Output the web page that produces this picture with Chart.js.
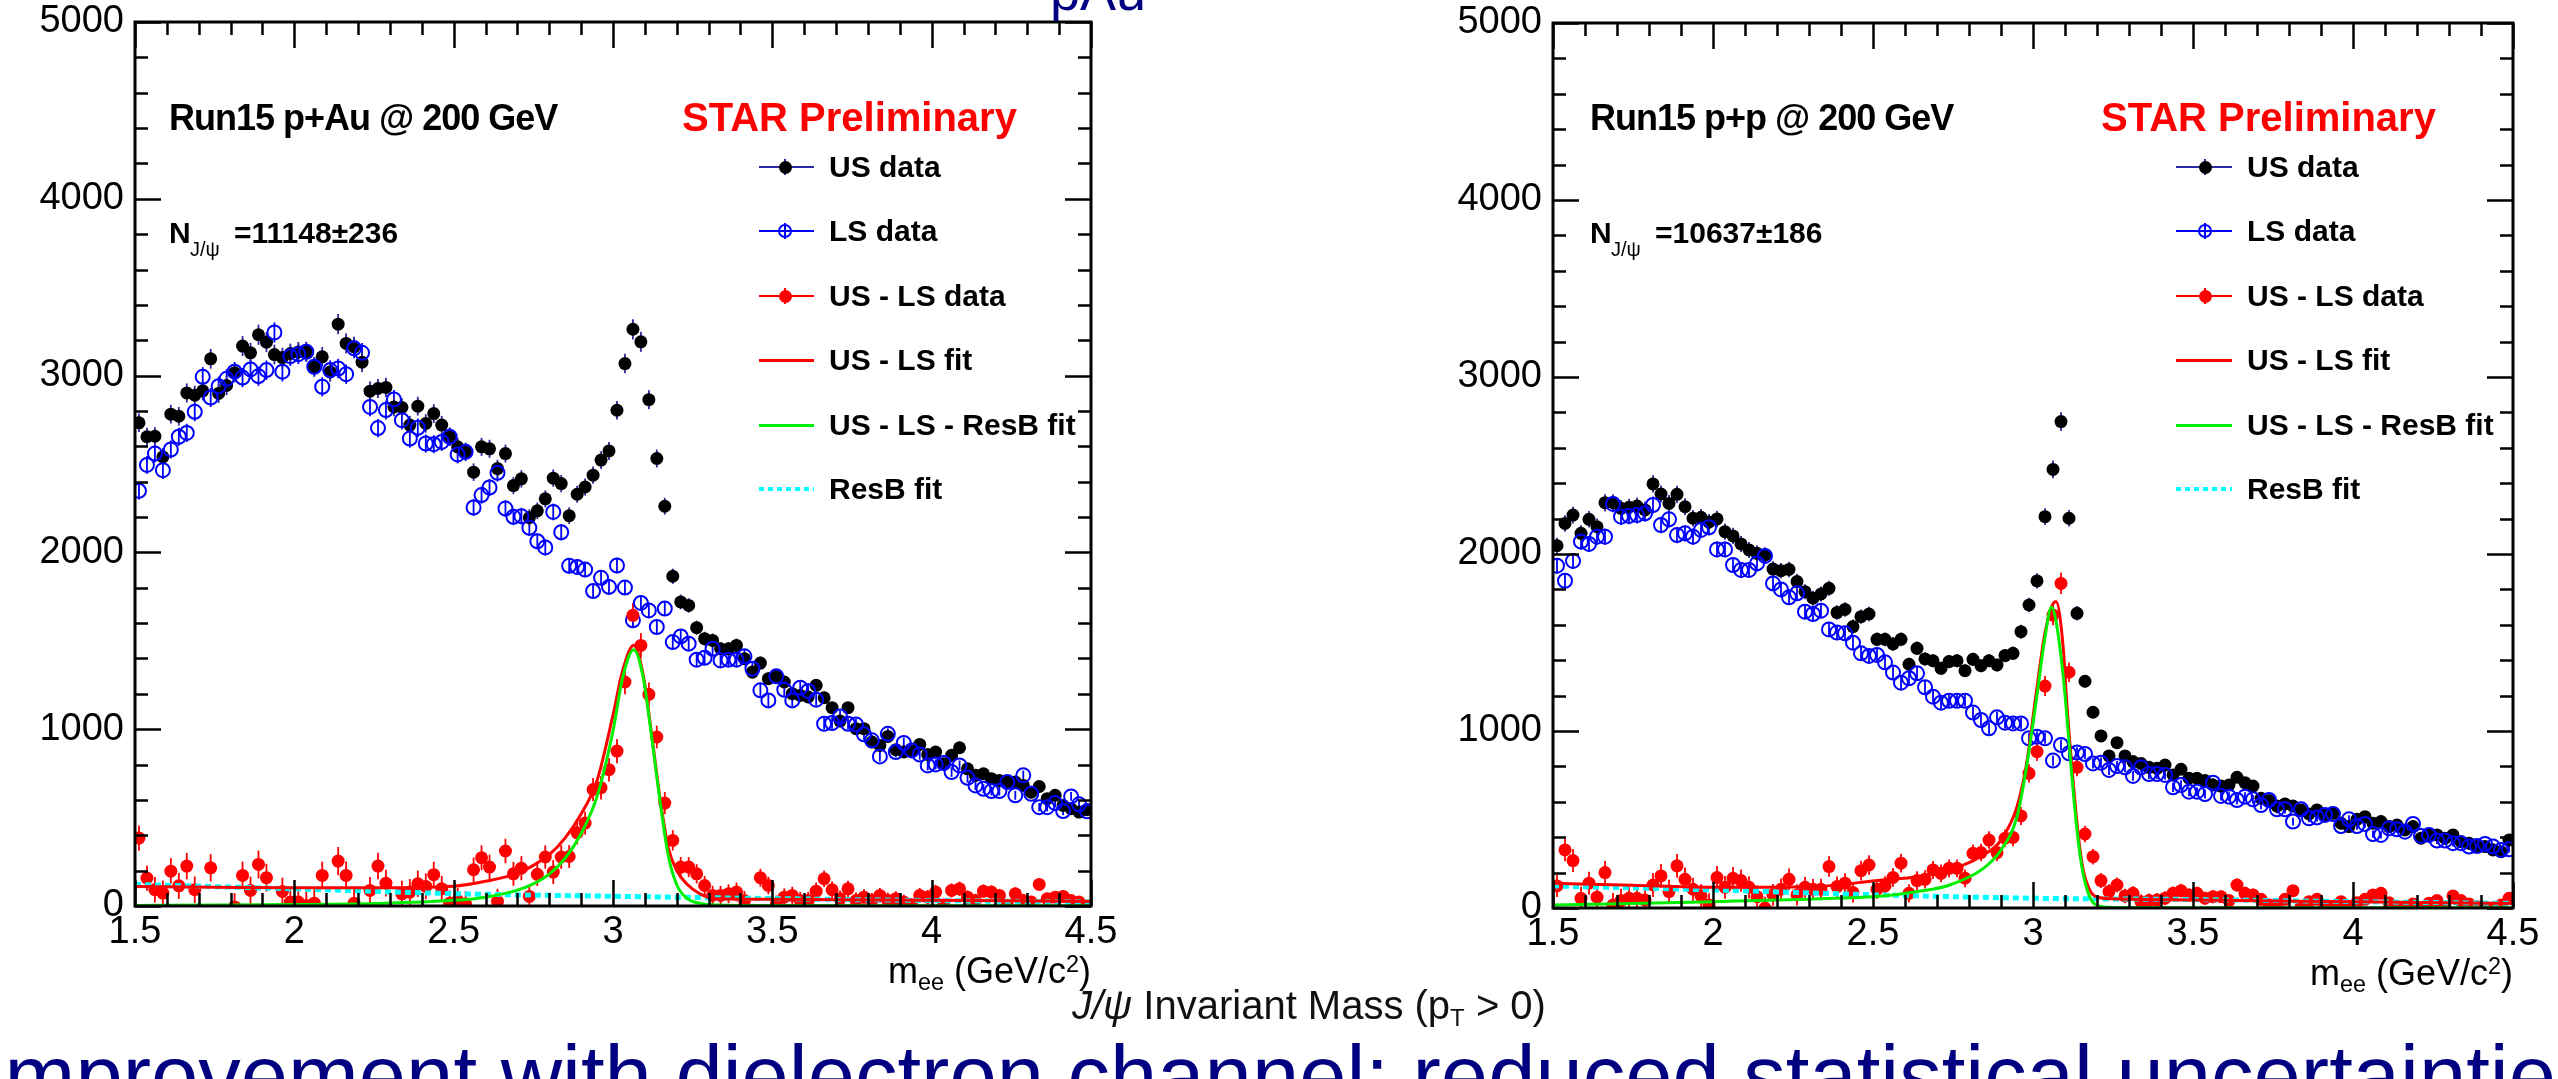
<!DOCTYPE html>
<html>
<head>
<meta charset="utf-8">
<script src="https://cdn.jsdelivr.net/npm/chart.js@4.4.0/dist/chart.umd.min.js"></script>
<style>
html,body{margin:0;padding:0;background:#fff;}
body{width:2558px;height:1079px;overflow:hidden;position:relative;font-family:"Liberation Sans",Arial,sans-serif;}
canvas{position:absolute;top:0;}
.t{position:absolute;white-space:nowrap;line-height:1;}
.b{font-weight:bold;}
</style>
</head>
<body>
<canvas id="cPAu" width="1150" height="1000" style="left:0;width:1150px;height:1000px"></canvas>
<canvas id="cPP" width="1158" height="1000" style="left:1400px;width:1158px;height:1000px"></canvas>

<!-- page texts -->
<div class="t" style="left:1050px;top:-36px;font-size:54px;color:#000080">pAu</div>
<div class="t" style="left:1072px;top:985px;font-size:40px;color:#111"><i>J/&psi;</i> Invariant Mass (p<span style="position:relative;top:0.3em;font-size:0.6em">T</span> &gt; 0)</div>
<div class="t" style="left:-19px;top:1033px;font-size:85px;color:#000080">Improvement with dielectron channel; reduced statistical uncertainties</div>

<!-- left panel texts -->
<div class="t b" style="left:169px;top:100px;font-size:36px;letter-spacing:-1px">Run15 p+Au @ 200 GeV</div>
<div class="t b" style="left:682px;top:97px;font-size:40px;color:#ff0000">STAR Preliminary</div>
<div class="t b" style="left:169px;top:218px;font-size:30px">N</div>
<div class="t" style="left:190px;top:239px;font-size:20px">J/&psi;</div>
<div class="t b" style="left:234px;top:218px;font-size:30px">=11148&plusmn;236</div>
<div class="t" style="right:1467px;top:953px;font-size:36px">m<span style="position:relative;top:0.3em;font-size:0.65em">ee</span> (GeV/c<span style="position:relative;top:-0.45em;font-size:0.65em">2</span>)</div>

<!-- right panel texts -->
<div class="t b" style="left:1590px;top:100px;font-size:36px;letter-spacing:-1px">Run15 p+p @ 200 GeV</div>
<div class="t b" style="left:2101px;top:97px;font-size:40px;color:#ff0000">STAR Preliminary</div>
<div class="t b" style="left:1590px;top:218px;font-size:30px">N</div>
<div class="t" style="left:1611px;top:239px;font-size:20px">J/&psi;</div>
<div class="t b" style="left:1655px;top:218px;font-size:30px">=10637&plusmn;186</div>
<div class="t" style="right:45px;top:955px;font-size:36px">m<span style="position:relative;top:0.3em;font-size:0.65em">ee</span> (GeV/c<span style="position:relative;top:-0.45em;font-size:0.65em">2</span>)</div>

<script>
// ---------------- data ----------------
const MASS = [
1.5125,1.5375,1.5625,1.5875,1.6125,1.6375,1.6625,1.6875,1.7125,1.7375,
1.7625,1.7875,1.8125,1.8375,1.8625,1.8875,1.9125,1.9375,1.9625,1.9875,
2.0125,2.0375,2.0625,2.0875,2.1125,2.1375,2.1625,2.1875,2.2125,2.2375,
2.2625,2.2875,2.3125,2.3375,2.3625,2.3875,2.4125,2.4375,2.4625,2.4875,
2.5125,2.5375,2.5625,2.5875,2.6125,2.6375,2.6625,2.6875,2.7125,2.7375,
2.7625,2.7875,2.8125,2.8375,2.8625,2.8875,2.9125,2.9375,2.9625,2.9875,
3.0125,3.0375,3.0625,3.0875,3.1125,3.1375,3.1625,3.1875,3.2125,3.2375,
3.2625,3.2875,3.3125,3.3375,3.3625,3.3875,3.4125,3.4375,3.4625,3.4875,
3.5125,3.5375,3.5625,3.5875,3.6125,3.6375,3.6625,3.6875,3.7125,3.7375,
3.7625,3.7875,3.8125,3.8375,3.8625,3.8875,3.9125,3.9375,3.9625,3.9875,
4.0125,4.0375,4.0625,4.0875,4.1125,4.1375,4.1625,4.1875,4.2125,4.2375,
4.2625,4.2875,4.3125,4.3375,4.3625,4.3875,4.4125,4.4375,4.4625,4.4875];

// p+Au
const PAU_US = [
2733,2654,2657,2540,2782,2770,2902,2889,2914,3095,
2899,2944,3016,3167,3129,3231,3189,3119,3102,3125,
3134,3134,3050,3106,3021,3291,3182,3163,3076,2912,
2927,2933,2823,2820,2720,2827,2729,2785,2720,2654,
2597,2569,2454,2597,2586,2474,2559,2378,2416,2197,
2235,2303,2420,2389,2208,2329,2370,2437,2522,2574,
2804,3068,3262,3191,2864,2531,2261,1865,1720,1700,
1574,1512,1502,1455,1455,1474,1399,1323,1374,1286,
1299,1267,1201,1191,1182,1248,1178,1122,1046,1122,
1003,1003,927,908,959,884,871,876,914,857,
871,805,852,895,776,739,748,720,710,701,
701,682,644,676,607,626,569,550,531,545];
const PAU_LS = [
2348,2495,2559,2465,2582,2654,2676,2795,2993,2876,
2940,2982,3022,2989,3035,2997,3031,3244,3022,3110,
3121,3135,3050,2937,3031,3040,3008,3154,3129,2823,
2703,2805,2865,2748,2644,2705,2616,2612,2625,2654,
2554,2569,2254,2324,2367,2450,2248,2201,2205,2139,
2063,2028,2229,2114,1924,1918,1903,1781,1856,1805,
1926,1801,1616,1714,1672,1578,1682,1493,1525,1484,
1393,1404,1455,1389,1393,1393,1412,1342,1220,1163,
1299,1223,1163,1235,1216,1167,1031,1035,1072,1031,
1027,971,937,846,974,871,922,880,857,795,
801,809,758,795,725,682,663,650,650,701,
626,739,635,559,559,582,537,620,575,536];
const PAU_USLS = [
384,158,92,73,197,114,226,92,null,216,
null,null,-5,173,88,235,160,null,82,22,
22,3,16,173,null,254,173,16,null,88,
226,129,null,69,79,126,111,177,97,16,
31,12,205,273,220,27,311,182,214,54,
179,277,192,277,280,414,469,659,669,771,
876,1267,1644,1474,1197,956,582,371,220,220,
182,116,60,60,69,79,31,null,160,116,
9,50,60,31,31,84,154,92,41,97,
31,50,31,60,31,41,22,3,60,50,
79,3,88,97,50,31,84,79,60,3,
69,31,22,122,41,50,54,31,22,0];
const PAU_FIT_M    = [1.5,1.75,2.0,2.25,2.5,2.6,2.7,2.75,2.8,2.85,2.9,2.95,3.0,3.03,3.065,3.095,3.121,3.147,3.173,3.2,3.231,3.273,3.325,3.5,4.0,4.5];
const PAU_FIT_USLS = [110,106,103,103,112,140,185,230,290,385,520,710,1080,1330,1475,1304,974,616,333,201,126,69,41,38,32,26];
const PAU_FIT_SIG  = [3,5,8,14,32,50,90,125,180,270,410,620,990,1290,1450,1290,960,600,290,120,45,15,6,3,2,2];
const PAU_RESB_M   = [1.5,2.0,2.5,3.0,3.5,4.0,4.5];
const PAU_RESB     = [122,97,70,55,42,31,22];

// p+p
const PP_US = [
2047,2173,2220,2117,2196,2154,2290,2290,2258,2264,
2271,2249,2396,2339,2286,2337,2267,2202,2207,2180,
2198,2126,2102,2057,2023,2004,1994,1915,1906,1913,
1844,1787,1750,1774,1806,1669,1687,1590,1646,1661,
1518,1518,1492,1518,1377,1467,1407,1397,1354,1392,
1397,1341,1405,1369,1397,1373,1426,1439,1561,1712,
1848,2211,2478,2748,2202,1665,1281,1106,972,859,
934,859,827,817,795,789,808,752,784,733,
733,720,695,689,695,738,708,689,620,607,
576,588,576,554,531,554,526,535,479,460,
501,516,479,488,460,469,441,460,394,413,
413,394,413,375,366,347,347,328,318,384];
const PP_LS = [
1934,1849,1961,2070,2057,2098,2098,2283,2211,2215,
2220,2230,2277,2164,2196,2107,2117,2098,2136,2151,
2026,2026,1938,1910,1910,1947,1989,1834,1800,1755,
1778,1674,1661,1680,1574,1556,1552,1499,1439,1424,
1430,1388,1330,1273,1298,1326,1247,1194,1160,1171,
1171,1171,1104,1062,1015,1077,1047,1043,1043,959,
968,959,833,921,874,878,870,817,821,780,
802,795,746,795,757,757,752,682,695,657,
657,644,708,633,629,610,629,614,582,610,
558,558,488,558,507,512,526,531,463,501,
463,475,418,413,450,445,431,475,407,413,
381,381,366,366,347,350,362,347,328,332];
const PP_USLS = [
125,328,268,55,140,61,200,17,42,55,
55,45,130,181,93,238,162,106,68,17,
172,117,168,155,117,64,0,74,106,162,
74,117,106,106,234,121,140,87,211,243,
106,125,173,253,83,155,162,215,196,224,
224,168,309,313,384,313,394,399,520,761,
883,1254,1655,1834,1332,795,418,290,155,93,
130,68,83,36,42,45,55,83,98,74,
83,55,64,64,42,130,83,74,49,17,
7,49,98,7,36,49,7,0,36,7,
30,49,74,83,30,7,0,23,0,27,
42,4,68,42,23,7,0,0,17,55];
const PP_FIT_M    = [1.5,1.75,2.0,2.3,2.53,2.64,2.74,2.845,2.9,2.95,2.98,3.01,3.035,3.058,3.072,3.095,3.105,3.126,3.142,3.157,3.178,3.2,3.25,3.5,4.0,4.5];
const PP_FIT_USLS = [140,128,117,120,158,177,215,300,384,573,817,1213,1530,1700,1731,1458,1175,704,403,215,100,62,52,45,35,25];
const PP_FIT_SIG  = [17,26,36,50,68,93,130,224,328,516,800,1170,1500,1700,1620,1300,1100,650,370,190,60,15,3,2,2,2];
const PP_RESB_M   = [1.5,2.0,2.5,3.0,3.5,4.0,4.5];
const PP_RESB     = [125,102,75,55,48,36,26];

// axes
const X_TICK_VALUES = [1.5,2,2.5,3,3.5,4,4.5];
const X_TICK_LABELS = ['1.5','2','2.5','3','3.5','4','4.5'];
const Y_TICK_VALUES = [0,1000,2000,3000,4000,5000];
const Y_TICK_LABELS = ['0','1000','2000','3000','4000','5000'];
const X_MIN = 1.5, X_MAX = 4.5, X_MINOR = 0.1, X_MINOR_N = 30;
const Y_MIN = 0, Y_MAX = 5000, Y_MINOR = 200, Y_MINOR_N = 25;

const LEGEND_LABELS = ['US data','LS data','US - LS data','US - LS fit','US - LS - ResB fit','ResB fit'];

// ---------------- plugins ----------------
const errorBars = {
  id: 'errorBars',
  beforeDatasetsDraw(chart) {
    const {ctx, chartArea: a, scales: {x, y}} = chart;
    ctx.save();
    ctx.beginPath(); ctx.rect(a.left, a.top, a.right - a.left, a.bottom - a.top); ctx.clip();
    chart.data.datasets.forEach(ds => {
      if (!ds.errors) return;
      ctx.strokeStyle = ds.errorColor; ctx.lineWidth = 1.8;
      ds.data.forEach((p, i) => {
        if (p.y == null) return;
        const e = ds.errors[i];
        const px = x.getPixelForValue(p.x);
        ctx.beginPath();
        ctx.moveTo(px, y.getPixelForValue(p.y - e));
        ctx.lineTo(px, y.getPixelForValue(p.y + e));
        ctx.stroke();
      });
    });
    ctx.restore();
  }
};
const rootFrame = {
  id: 'rootFrame',
  afterDatasetsDraw(chart) {
    const {ctx, chartArea: a, scales: {x, y}} = chart;
    ctx.save();
    ctx.strokeStyle = '#000';
    ctx.lineWidth = 2.5;
    ctx.beginPath();
    for (let k = 0; k <= X_MINOR_N; k++) {
      const px = Math.round(x.getPixelForValue(X_MIN + k * X_MINOR)) + 0.5;
      const len = (k % 5 === 0) ? 26 : 13;
      ctx.moveTo(px, a.bottom); ctx.lineTo(px, a.bottom - len);
      ctx.moveTo(px, a.top); ctx.lineTo(px, a.top + len);
    }
    for (let k = 0; k <= Y_MINOR_N; k++) {
      const py = Math.round(y.getPixelForValue(Y_MIN + k * Y_MINOR)) + 0.5;
      const len = (k % 5 === 0) ? 26 : 13;
      ctx.moveTo(a.left, py); ctx.lineTo(a.left + len, py);
      ctx.moveTo(a.right, py); ctx.lineTo(a.right - len, py);
    }
    ctx.stroke();
    ctx.lineWidth = 3;
    ctx.strokeRect(a.left, a.top, a.right - a.left, a.bottom - a.top);
    ctx.restore();
  }
};

function pts(xs, ys) { return xs.map((v, i) => ({x: v, y: ys[i]})); }
function noPad(s) { s.paddingTop = 0; s.paddingBottom = 0; s.paddingLeft = 0; s.paddingRight = 0; }

function makeChart(id, us, ls, usls, fitM, fitUsls, fitSig, resbM, resb, g) {
  const tickFont = {family: 'Liberation Sans', size: 38};
  return new Chart(document.getElementById(id), {
    type: 'scatter',
    data: {
      datasets: [
        {label: LEGEND_LABELS[4], type: 'line', data: pts(fitM, fitSig), showLine: true, borderColor: '#00ee00', borderWidth: 3, pointRadius: 0, cubicInterpolationMode: 'monotone', fill: false, order: 0},
        {label: LEGEND_LABELS[3], type: 'line', data: pts(fitM, fitUsls), showLine: true, borderColor: '#ff0000', borderWidth: 3, pointRadius: 0, cubicInterpolationMode: 'monotone', fill: false, order: 1},
        {label: LEGEND_LABELS[5], type: 'line', data: pts(resbM, resb), showLine: true, borderColor: '#00ffff', borderWidth: 5, borderDash: [6, 4], pointRadius: 0, cubicInterpolationMode: 'monotone', fill: false, order: 2},
        {label: LEGEND_LABELS[2], data: pts(MASS, usls), pointRadius: 6.5, pointBackgroundColor: '#ff0000', pointBorderColor: '#ff0000', pointBorderWidth: 0, order: 3,
         errors: usls.map((v, i) => Math.sqrt(us[i] + ls[i])), errorColor: '#ff0000'},
        {label: LEGEND_LABELS[1], data: pts(MASS, ls), pointRadius: 7, pointBackgroundColor: 'rgba(0,0,0,0)', pointBorderColor: '#0000ff', pointBorderWidth: 2, order: 4,
         errors: ls.map(v => Math.sqrt(v)), errorColor: '#0000ff'},
        {label: LEGEND_LABELS[0], data: pts(MASS, us), pointRadius: 6.5, pointBackgroundColor: '#000', pointBorderColor: '#000', pointBorderWidth: 0, order: 5,
         errors: us.map(v => Math.sqrt(v)), errorColor: '#2a2aa0'}
      ]
    },
    options: {
      responsive: false, animation: false, devicePixelRatio: 1, events: [],
      layout: {autoPadding: false, padding: {top: g.padTop, right: g.padRight, left: 0, bottom: 0}},
      plugins: {legend: {display: false}, tooltip: {enabled: false}},
      scales: {
        x: {type: 'linear', min: X_MIN, max: X_MAX,
            afterFit(s) { s.height = g.xh; noPad(s); },
            afterBuildTicks(s) { s.ticks = X_TICK_VALUES.map(v => ({value: v})); },
            grid: {display: false, drawTicks: false}, border: {display: false},
            ticks: {padding: 4, color: '#000', font: tickFont, maxRotation: 0, autoSkip: false, callback: (v, i) => X_TICK_LABELS[i]}},
        y: {type: 'linear', min: Y_MIN, max: Y_MAX,
            afterFit(s) { s.width = g.yw; noPad(s); },
            afterBuildTicks(s) { s.ticks = Y_TICK_VALUES.map(v => ({value: v})); },
            grid: {display: false, drawTicks: false}, border: {display: false},
            ticks: {padding: 11, color: '#000', font: tickFont, autoSkip: false, callback: (v, i) => Y_TICK_LABELS[i]}}
      }
    },
    plugins: [errorBars, rootFrame]
  });
}

makeChart('cPAu', PAU_US, PAU_LS, PAU_USLS, PAU_FIT_M, PAU_FIT_USLS, PAU_FIT_SIG, PAU_RESB_M, PAU_RESB,
          {yw: 135, xh: 94, padTop: 22, padRight: 59});
makeChart('cPP', PP_US, PP_LS, PP_USLS, PP_FIT_M, PP_FIT_USLS, PP_FIT_SIG, PP_RESB_M, PP_RESB,
          {yw: 153, xh: 92, padTop: 23, padRight: 45});

// ---------------- legends (HTML) ----------------
const LEGEND_Y = [167, 231, 296, 360, 425, 489];
const LEGEND_STYLE = [
  {line: '#2a2aa0', lw: 2, marker: 'dot', mc: '#000', bar: '#2a2aa0'},
  {line: '#0000ff', lw: 2, marker: 'open', mc: '#0000ff', bar: '#0000ff'},
  {line: '#ff0000', lw: 2, marker: 'dot', mc: '#ff0000', bar: '#ff0000'},
  {line: '#ff0000', lw: 3},
  {line: '#00ee00', lw: 3},
  {line: '#00ffff', lw: 4, dash: true}
];
function el(css, html) {
  const d = document.createElement('div');
  d.style.cssText = css;
  if (html != null) d.textContent = html;
  document.body.appendChild(d);
  return d;
}
function legend(x0, x1, xm, xt) {
  LEGEND_LABELS.forEach((lab, i) => {
    const c = LEGEND_Y[i], s = LEGEND_STYLE[i];
    const bg = s.dash ? `repeating-linear-gradient(90deg, ${s.line} 0 5px, transparent 5px 9px)` : s.line;
    el(`position:absolute;left:${x0}px;top:${c - s.lw / 2}px;width:${x1 - x0}px;height:${s.lw}px;background:${bg}`);
    if (s.bar) el(`position:absolute;left:${xm - 0.8}px;top:${c - 8}px;width:1.6px;height:16px;background:${s.bar}`);
    if (s.marker === 'dot') el(`position:absolute;left:${xm - 6.5}px;top:${c - 6.5}px;width:13px;height:13px;border-radius:50%;background:${s.mc}`);
    if (s.marker === 'open') el(`position:absolute;left:${xm - 7}px;top:${c - 7}px;width:14px;height:14px;border-radius:50%;border:2px solid ${s.mc};box-sizing:border-box`);
    el(`position:absolute;left:${xt}px;top:${c + 10.7 - 25.4}px;font:bold 30px 'Liberation Sans',Arial,sans-serif;line-height:1;white-space:nowrap;color:#000`, lab);
  });
}
legend(759, 814, 785, 829);
legend(2176, 2232, 2205, 2247);
</script>
</body>
</html>
